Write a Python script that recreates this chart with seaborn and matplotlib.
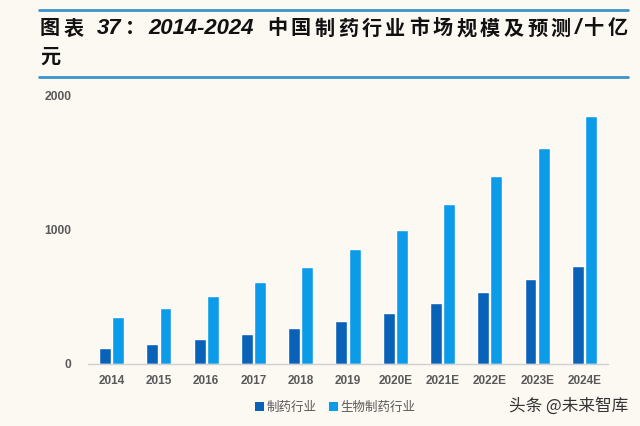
import re
import numpy as np
import pandas as pd
import matplotlib
matplotlib.use("Agg")
import matplotlib.pyplot as plt
from matplotlib.lines import Line2D
from matplotlib.patches import Patch
import seaborn as sns

years = ["2014", "2015", "2016", "2017", "2018", "2019",
         "2020E", "2021E", "2022E", "2023E", "2024E"]
pharma = [117, 146, 186, 221, 265, 322, 377, 456, 538, 630, 726]
biopharma = [352, 414, 503, 607, 724, 858, 996, 1192, 1398, 1608, 1842]
series_names = ["制药行业", "生物制药行业"]
yticks = [0, 1000, 2000]
title_line1 = "图表 37：2014-2024 中国制药行业市场规模及预测/十亿"
title_line2 = "元"
watermark = "头条 @未来智库"

colors = ["#0A62B8", "#0C9BE8"]
bg = "#FCF8F2"

sns.set_theme(style="white")
plt.rcParams["font.family"] = ["Liberation Sans", "Noto Sans CJK SC", "DejaVu Sans"]

df = pd.DataFrame({
    "year": years * 2,
    "value": pharma + biopharma,
    "series": [series_names[0]] * len(years) + [series_names[1]] * len(years),
})

fig = plt.figure(figsize=(6.4, 4.26), dpi=100, facecolor=bg)
ax = fig.add_axes([88 / 640, 1 - 364 / 426, 520 / 640, (364 - 95) / 426])
ax.set_facecolor(bg)

sns.barplot(data=df, x="year", y="value", hue="series", order=years,
            hue_order=series_names, palette=colors, width=0.56, gap=0.1,
            saturation=1, ax=ax, legend=False)

ax.set_ylim(0, 2000)
ax.set_xlim(-0.5, len(years) - 0.5)
ax.set_yticks(yticks)
ax.set_yticklabels([str(v) for v in yticks])
ax.set_xlabel("")
ax.set_ylabel("")
for s in ["top", "right", "left"]:
    ax.spines[s].set_visible(False)
ax.spines["bottom"].set_color("#D0D0D0")
ax.spines["bottom"].set_linewidth(1.0)
ax.set_xticks(np.arange(-0.5, len(years), 1), minor=True)
ax.tick_params(axis="x", which="major", length=0, pad=8)
ax.tick_params(axis="x", which="minor", length=3, color="#D0D0D0", width=0.8)
ax.tick_params(axis="y", length=0, pad=12)
for lab in ax.get_xticklabels():
    lab.set_fontsize(8.5)
    lab.set_fontweight("bold")
    lab.set_color("#595959")
for lab in ax.get_yticklabels():
    lab.set_fontsize(8.7)
    lab.set_fontweight("bold")
    lab.set_color("#595959")

# title rules
fig.add_artist(Line2D([39 / 640, 628 / 640], [1 - 10 / 426] * 2,
                      color="#3C96CB", lw=2.0, transform=fig.transFigure))
fig.add_artist(Line2D([39 / 640, 628 / 640], [1 - 77 / 426] * 2,
                      color="#3C96CB", lw=2.0, transform=fig.transFigure))

# title drawn as tokens with extra spacing between them (real text)
renderer = fig.canvas.get_renderer()


def draw_tracked(text, x0_px, y_px, size, target_right_px=None):
    tokens = re.findall(r"[A-Za-z0-9\-/]+|\s|[^\sA-Za-z0-9\-/]", text)
    pieces = []
    for tok in tokens:
        if tok.isspace():
            pieces.append((None, 6.0))
            continue
        if ord(tok[0]) < 128:
            kw = dict(family=["Liberation Sans", "DejaVu Sans"], style="italic",
                      fontweight="bold", fontsize=size * 1.1)
        else:
            kw = dict(family=["Noto Sans CJK SC", "DejaVu Sans"],
                      fontweight="bold", fontsize=size)
        t = fig.text(0, 1 - y_px / 426, tok, ha="left", va="center",
                     color="#111111", **kw)
        pieces.append((t, t.get_window_extent(renderer).width))
    total = sum(w for _, w in pieces)
    tracking = 0.0
    if target_right_px is not None and len(pieces) > 1:
        tracking = (target_right_px - x0_px - total) / (len(pieces) - 1)
    x = x0_px
    for t, w in pieces:
        if t is not None:
            t.set_x(x / 640)
        x += w + tracking


draw_tracked(title_line1, 40, 28, 14.5, target_right_px=628)
draw_tracked(title_line2, 40, 56, 14.5)

handles = [Patch(facecolor=c, edgecolor="none") for c in colors]
fig.legend(handles, series_names, loc="center", bbox_to_anchor=(335 / 640, 1 - 407 / 426),
           ncol=2, frameon=False, handlelength=0.7, handleheight=0.7,
           handletextpad=0.2, columnspacing=1.0,
           prop={"family": ["Noto Sans CJK SC"], "size": 9})
for t in fig.legends[0].get_texts():
    t.set_color("#595959")

fig.text(628 / 640, 1 - 406 / 426, watermark, fontsize=12,
         family=["Noto Sans CJK SC", "DejaVu Sans"], color="#333333",
         ha="right", va="center")

fig.savefig("out.png", dpi=100, facecolor=bg)
